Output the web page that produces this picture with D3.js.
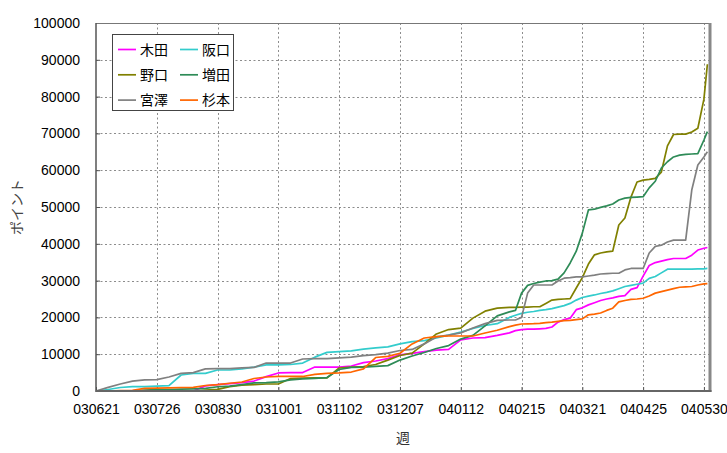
<!DOCTYPE html>
<html><head><meta charset="utf-8">
<script src="https://cdn.jsdelivr.net/npm/d3@7/dist/d3.min.js"></script>
<style>
html,body{margin:0;padding:0;background:#fff;}
svg{display:block;}
</style></head>
<body>
<svg id="chart" width="727" height="453"></svg>
<script>
// x: days since 2003-06-21 (weekly samples, half-weekly near the end)
const days = [0,7,14,21,28,35,42,49,56,63,70,77,84,91,98,105,112,119,126,133,140,147,154,161,168,175,182,189,196,203,210,217,224,231,
  238,241.5,245,248.5,252,255.5,259,262.5,266,269.5,273,276.5,280,283.5,287,290.5,294,297.5,301,304.5,308,311.5,315,318.5,322,325.5,329,332.5,336,339.5,343,346.5,350,352];
const tickDays = [0,35,70,105,140,175,210,245,280,315,350];
const tickLabels = ['030621','030726','030830','031001','031102','031207','040112','040215','040321','040425','040530'];
const yTicks = [0,10000,20000,30000,40000,50000,60000,70000,80000,90000,100000];

const seriesNames = ['木田','阪口','野口','増田','宮澤','杉本'];
const seriesColors = ['#ff00ff','#33cccc','#808000','#2e8b57','#808080','#ff6600'];

const kida = [0,0,0,0,0,0,0,0,0,1400,1750,2000,2300,2700,3900,4900,5000,5000,6500,6500,6500,6800,7700,8150,8800,9800,10200,10700,11100,11300,13900,14400,14500,15100,
  15800,16400,16700,16800,16800,16900,17000,17400,18700,19400,19800,22100,22600,23400,24000,24600,25000,25300,25700,25900,27600,28100,31200,34100,34900,35300,35700,36000,36000,36000,36900,38300,38800,39000];
const sakaguchi = [0,400,950,1170,1200,1350,1450,4350,4800,4800,5700,5700,6000,6500,7100,7100,7200,7600,9200,10500,10700,10900,11400,11700,12000,12800,13400,13700,14400,15200,16000,17000,17800,18300,
  20000,20600,21100,21400,21600,21900,22100,22400,22800,23200,23800,24700,25400,25800,26100,26500,26800,27200,27800,28400,28700,29000,29300,30600,31100,32100,33100,33100,33100,33100,33100,33200,33200,33300];
const noguchi = [0,0,0,0,0,0,0,0,0,270,450,1200,1600,1750,1900,1900,3400,3500,3550,3550,6250,6500,6650,7200,8400,9650,10300,12800,15500,16700,17100,19800,21700,22500,
  22700,22700,22800,22800,22900,22900,23800,24700,24900,25000,25100,28000,30800,34500,37000,37500,37800,38000,45100,47000,52700,56800,57300,57500,57800,59500,66600,69700,69800,69800,70400,71400,79300,88800];
const masuda = [0,0,0,0,270,350,400,500,600,730,1150,1350,1750,2200,2300,2500,3000,3300,3450,3650,5850,6400,6500,6700,6900,8400,9500,10450,11550,12350,14100,15100,17700,20400,
  21500,21900,26600,28700,29200,29600,29900,30000,30400,32100,34800,38000,42900,49200,49400,49900,50300,50800,51900,52400,52600,52700,52800,55200,57000,60600,62300,63600,64100,64300,64400,64500,68200,70500];
const miyazawa = [0,1000,1900,2700,3000,3100,3800,4800,5000,6000,6100,6100,6300,6400,7600,7600,7600,8700,8800,8800,9000,9200,9600,9900,10300,11000,11300,12800,14700,15200,15800,17100,18300,19200,
  19300,19300,20000,26600,28800,28800,28800,28800,29900,30650,30800,31000,31000,31250,31500,31800,31900,32000,32000,32900,33300,33300,33300,37500,39300,39600,40500,41000,41000,41000,54600,61400,63600,65000];
const sugimoto = [0,0,100,200,700,800,870,950,1000,1500,1750,2100,2450,3400,3800,3950,3950,3950,4500,4800,4900,5150,6000,9100,9400,10250,12800,14400,14800,14950,14950,14950,15750,16500,
  17500,17900,18200,18250,18300,18400,18600,18700,18900,19100,19200,19400,19600,20700,20900,21200,21900,22500,24200,24600,24900,25000,25200,25800,26600,27000,27400,27800,28200,28300,28400,28800,29100,29200];

const seriesValues = [kida, sakaguchi, noguchi, masuda, miyazawa, sugimoto];

const svg = d3.select('#chart');
const L = 96, R = 710, T = 23, B = 391;
const x = d3.scaleLinear().domain([0, 353.5]).range([L, R]);
const y = d3.scaleLinear().domain([0, 100000]).range([B, T]);
const numFont = '"Liberation Sans", Arial, sans-serif';
const jpFont = '"Noto Sans CJK JP", sans-serif';

svg.append('rect').attr('width',727).attr('height',453).attr('fill','#fff');

// grid
const grid = svg.append('g');
grid.selectAll('.gy').data(yTicks.filter(d=>d>0 && d<100000)).enter().append('line')
  .attr('x1',L).attr('x2',R).attr('y1',d=>Math.round(y(d))+0.5).attr('y2',d=>Math.round(y(d))+0.5)
  .attr('stroke','#8c8c8c').attr('stroke-width',1).attr('stroke-dasharray','2,2.5');
grid.selectAll('.gx').data(tickDays.filter(d=>d>0)).enter().append('line')
  .attr('y1',T).attr('y2',B).attr('x1',d=>Math.round(x(d))+0.5).attr('x2',d=>Math.round(x(d))+0.5)
  .attr('stroke','#8c8c8c').attr('stroke-width',1).attr('stroke-dasharray','2,2.5');

// axes via d3
const xAxis = d3.axisBottom(x).tickValues(tickDays).tickFormat((d,i)=>tickLabels[i]).tickSizeInner(-4).tickSizeOuter(0).tickPadding(13);
const gx = svg.append('g').attr('transform',`translate(0,${B})`).call(xAxis);
gx.select('.domain').remove();
gx.selectAll('line').attr('stroke','#555');
gx.selectAll('text').attr('font-family',numFont).attr('font-size',14).attr('fill','#000');

const yAxis = d3.axisLeft(y).tickValues(yTicks).tickSizeInner(-4).tickSizeOuter(0).tickPadding(16).tickFormat(d3.format('d'));
const gy = svg.append('g').attr('transform',`translate(${L},0)`).call(yAxis);
gy.select('.domain').remove();
gy.selectAll('line').attr('stroke','#555');
gy.selectAll('text').attr('font-family',numFont).attr('font-size',14).attr('fill','#000');

// lines
const line = d3.line().x((d,i)=>x(days[i])).y(d=>y(d));
seriesValues.forEach((vals,k)=>{
  svg.append('path').datum(vals).attr('d',line)
    .attr('fill','none').attr('stroke',seriesColors[k]).attr('stroke-width',1.7)
    .attr('stroke-linejoin','round');
});

// frame
svg.append('line').attr('x1',L).attr('x2',R).attr('y1',T+0.5).attr('y2',T+0.5).attr('stroke','#777').attr('stroke-width',1);
svg.append('line').attr('x1',R).attr('x2',R).attr('y1',T).attr('y2',B+1).attr('stroke','#888').attr('stroke-width',3);
svg.append('line').attr('x1',L).attr('x2',L).attr('y1',T).attr('y2',B+1).attr('stroke','#555').attr('stroke-width',1.5);
svg.append('line').attr('x1',L).attr('x2',R+1.5).attr('y1',B).attr('y2',B).attr('stroke','#666').attr('stroke-width',2);

// axis titles
svg.append('text').attr('x',403).attr('y',443).attr('text-anchor','middle')
  .attr('font-family',jpFont).attr('font-size',14).attr('fill','#333').text('週');
svg.append('text').attr('transform','translate(22,207) rotate(-90)').attr('text-anchor','middle')
  .attr('font-family',jpFont).attr('font-size',14).attr('fill','#444').text('ポイント');

// legend
const lg = svg.append('g');
lg.append('rect').attr('x',112.5).attr('y',34.5).attr('width',121).attr('height',76)
  .attr('fill','#fff').attr('stroke','#444').attr('stroke-width',1);
seriesNames.forEach((name,k)=>{
  const col = k % 2, row = Math.floor(k/2);
  const lx = col === 0 ? 118 : 180;
  const ly = 49.5 + row*25.3;
  lg.append('line').attr('x1',lx).attr('x2',lx+18).attr('y1',ly).attr('y2',ly)
    .attr('stroke',seriesColors[k]).attr('stroke-width',1.7);
  lg.append('text').attr('x',lx+22).attr('y',ly+5).attr('font-family',jpFont)
    .attr('font-size',14).attr('fill','#000').text(name);
});
</script>
</body></html>
